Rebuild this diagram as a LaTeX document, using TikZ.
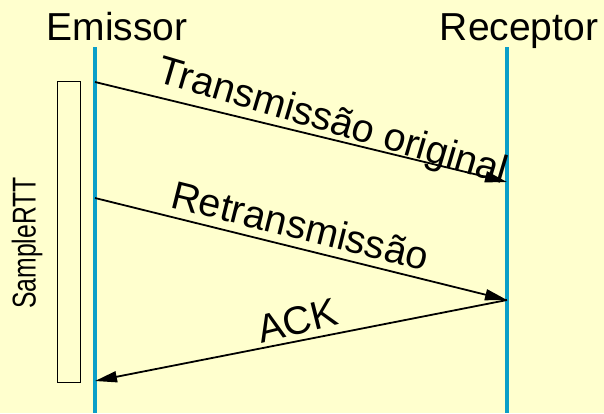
\documentclass[tikz,border=0pt]{standalone}
\usepackage{fontspec}
\setmainfont{Liberation Sans}
\newfontfamily\narrowsans[FakeStretch=0.75]{Liberation Sans}
\usetikzlibrary{arrows.meta}
\definecolor{bgcol}{HTML}{FFFFCE}
\definecolor{lifeblue}{HTML}{0A9FC8}
\tikzset{
  lifeline/.style={draw=lifeblue, line width=4.5pt},
  msg/.style={draw=black, line width=1.8pt, -{Triangle[length=22pt,width=11pt]}},
  bigtext/.style={inner sep=0pt, font=\fontsize{39}{41}\selectfont},
  msgtext/.style={inner sep=0pt, anchor=base west, font=\fontsize{39.5}{41}\selectfont},
}
\begin{document}
\begin{tikzpicture}[x=1pt,y=-1pt]
\fill[bgcol] (0,0) rectangle (604,413);
\useasboundingbox (0,0) rectangle (604,413);
% headers
\node[bigtext, anchor=base] (em) at (117,40) {Emissor};
\node[bigtext, anchor=base] (re) at (519,40) {Receptor};
% lifelines
\coordinate (etop) at (95,47);
\coordinate (ebot) at (95,413);
\coordinate (rtop) at (507,47);
\coordinate (rbot) at (507,413);
\draw[lifeline] (etop) -- (ebot);
\draw[lifeline] (rtop) -- (rbot);
% RTT box
\node[draw=black, line width=1.6pt, fill=bgcol, minimum width=23pt, minimum height=301pt, inner sep=0pt] (box) at (69,232) {};
\node[rotate=90, inner sep=0pt, font=\narrowsans\fontsize{33}{36}\selectfont] (srtt) at (27,243) {SampleRTT};
% messages
\coordinate (s1) at (95,82);
\coordinate (d1) at (507,182);
\coordinate (s2) at (95,198);
\coordinate (d2) at (507,300);
\coordinate (d3) at (95,381);
\draw[msg] (s1) -- (d1);
\draw[msg] (s2) -- (d2);
\draw[msg] (d2) -- (d3);
\node[msgtext, rotate=-16.5] (t1) at (155,81) {Transmissão original};
\node[msgtext, rotate=-14] (t2) at (169,207) {Retransmissão};
\node[msgtext, rotate=14] (t3) at (261,344) {ACK};
\end{tikzpicture}
\end{document}
